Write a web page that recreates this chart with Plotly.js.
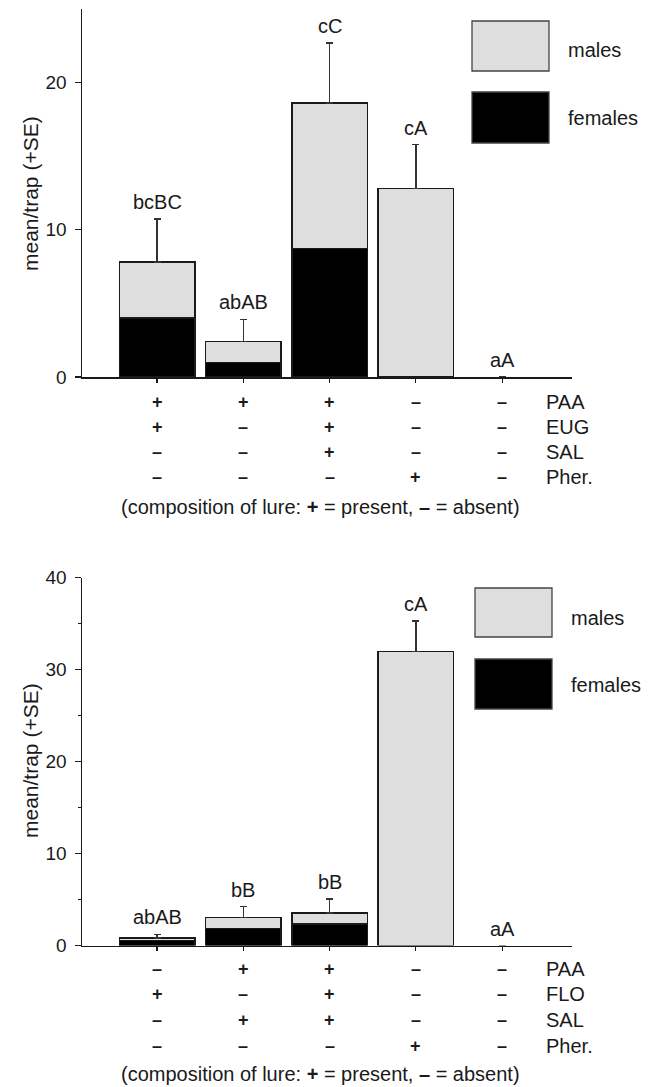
<!DOCTYPE html>
<html>
<head>
<meta charset="utf-8">
<script src="https://cdn.plot.ly/plotly-3.0.1.min.js"></script>
<style>html,body{margin:0;padding:0;background:#fff;}#chart{width:657px;height:1087px;}</style>
</head>
<body>
<div id="chart"></div>
<script>
// ---- data ----
const categories = ['L1', 'L2', 'L3', 'L4', 'L5'];

// top panel (PAA / EUG / SAL / Pher.)
const femalesTop = [4.0, 1.0, 8.75, 0, 0];
const malesTop   = [3.82, 1.4, 9.87, 12.79, 0];
const seTop      = [2.91, 1.52, 4.08, 2.99, 0];
const lettersTop = ['bcBC', 'abAB', 'cC', 'cA', 'aA'];
const rowNamesTop = ['PAA', 'EUG', 'SAL', 'Pher.'];
const rowsTop = [
  ['+', '+', '+', '–', '–'],
  ['+', '–', '+', '–', '–'],
  ['–', '–', '+', '–', '–'],
  ['–', '–', '–', '+', '–']
];

// bottom panel (PAA / FLO / SAL / Pher.)
const femalesBot = [0.55, 1.87, 2.34, 0, 0];
const malesBot   = [0.25, 1.20, 1.20, 31.97, 0];
const seBot      = [0.42, 1.16, 1.53, 3.30, 0];
const lettersBot = ['abAB', 'bB', 'bB', 'cA', 'aA'];
const rowNamesBot = ['PAA', 'FLO', 'SAL', 'Pher.'];
const rowsBot = [
  ['–', '+', '+', '–', '–'],
  ['+', '–', '+', '–', '–'],
  ['–', '+', '+', '–', '–'],
  ['–', '–', '–', '+', '–']
];

const yTickTop = [0, 10, 20];
const yTickBot = [0, 10, 20, 30, 40];
const legendNames = ['males', 'females'];
const yTitle = 'mean/trap (+SE)';
const caption = '(composition of lure: <b>+</b> = present, <b>–</b> = absent)';

// ---- styling ----
const W = 657, H = 1087;
const FONT = 'Liberation Sans, Arial, Helvetica, sans-serif';
const INK = '#1a1a1a';
const GREY = '#dedede';
const px = v => v / W;
const py = v => 1 - v / H;
const outline = vals => vals.map(v => (v > 0 ? 1.4 : 0));

function barTraces(fem, mal, se, xa, ya) {
  return [
    {type: 'bar', x: categories, y: fem, xaxis: xa, yaxis: ya, name: 'females',
     marker: {color: '#000', line: {color: INK, width: outline(fem)}}, showlegend: false, hoverinfo: 'skip'},
    {type: 'bar', x: categories, y: mal, xaxis: xa, yaxis: ya, name: 'males',
     marker: {color: GREY, line: {color: INK, width: outline(mal)}}, showlegend: false, hoverinfo: 'skip',
     error_y: {type: 'data', array: se.map(v => (v > 0 ? v : null)), symmetric: false,
               arrayminus: se.map(v => (v > 0 ? 0 : null)),
               color: '#333', thickness: 1.3, width: 3.5}}
  ];
}

const data = [
  ...barTraces(femalesTop, malesTop, seTop, 'x', 'y'),
  ...barTraces(femalesBot, malesBot, seBot, 'x2', 'y2')
];

const annotations = [];
const shapes = [];

function panel(fem, mal, se, letters, rowNames, rows, xa, ya, rowGap, rowStart, captionGap) {
  letters.forEach((t, i) => {
    annotations.push({xref: xa, yref: ya, x: categories[i], y: fem[i] + mal[i] + se[i],
      text: t, showarrow: false, xanchor: 'center', yanchor: 'bottom', yshift: 4,
      font: {family: FONT, size: 20, color: INK}});
  });
  rows.forEach((row, r) => {
    row.forEach((s, i) => {
      annotations.push({xref: xa, yref: ya + ' domain', x: categories[i], y: 0,
        yshift: -(rowStart + r * rowGap), xanchor: 'center', yanchor: 'middle', showarrow: false,
        text: '<b>' + s + '</b>', font: {family: FONT, size: 18, color: INK}});
    });
    annotations.push({xref: xa, yref: ya + ' domain', x: 4.49, y: 0,
      yshift: -(rowStart + r * rowGap), yanchor: 'middle', xanchor: 'left', showarrow: false,
      text: rowNames[r], font: {family: FONT, size: 20, color: INK}});
  });
  annotations.push({xref: 'paper', yref: ya + ' domain', x: px(320), y: 0,
    yshift: -captionGap, yanchor: 'middle', xanchor: 'center', showarrow: false,
    text: caption, font: {family: FONT, size: 20, color: INK}});
}

panel(femalesTop, malesTop, seTop, lettersTop, rowNamesTop, rowsTop, 'x', 'y', 25, 25, 130);
panel(femalesBot, malesBot, seBot, lettersBot, rowNamesBot, rowsBot, 'x2', 'y2', 25.7, 23, 128);

// y-axis titles
annotations.push({xref: 'paper', yref: 'paper', x: px(30), y: py(194), textangle: -90,
  xanchor: 'center', yanchor: 'middle',
  text: yTitle, showarrow: false, font: {family: FONT, size: 21, color: INK}});
annotations.push({xref: 'paper', yref: 'paper', x: px(30), y: py(761), textangle: -90,
  xanchor: 'center', yanchor: 'middle',
  text: yTitle, showarrow: false, font: {family: FONT, size: 21, color: INK}});

// legend boxes (drawn as shapes in figure space)
function legend(x0, x1, yM0, yM1, yF0, yF1, tx, tyM, tyF) {
  shapes.push({type: 'rect', xref: 'paper', yref: 'paper', x0: px(x0), x1: px(x1), y0: py(yM1), y1: py(yM0),
    fillcolor: GREY, line: {color: '#444', width: 1.3}});
  shapes.push({type: 'rect', xref: 'paper', yref: 'paper', x0: px(x0), x1: px(x1), y0: py(yF1), y1: py(yF0),
    fillcolor: '#000', line: {color: '#444', width: 1.3}});
  annotations.push({xref: 'paper', yref: 'paper', x: px(tx), y: py(tyM), xanchor: 'left', yanchor: 'middle',
    text: legendNames[0], showarrow: false, font: {family: FONT, size: 20, color: INK}});
  annotations.push({xref: 'paper', yref: 'paper', x: px(tx), y: py(tyF), xanchor: 'left', yanchor: 'middle',
    text: legendNames[1], showarrow: false, font: {family: FONT, size: 20, color: INK}});
}
legend(472, 549, 21, 71, 92, 143, 566, 50, 118);
legend(475, 552, 588, 637, 659, 709, 569, 618, 685);

const xCommon = {
  type: 'category', categoryorder: 'array', categoryarray: categories,
  range: [-0.87, 4.81], showticklabels: false, showgrid: false, zeroline: false,
  showline: true, linecolor: INK, linewidth: 1.5,
  ticks: 'outside', ticklen: 4, tickwidth: 1.2, tickcolor: INK, fixedrange: true
};
const yCommon = {
  showgrid: false, zeroline: false, showline: true, linecolor: INK, linewidth: 1.5,
  ticks: 'outside', ticklen: 6, tickwidth: 1.3, tickcolor: INK, ticklabelstandoff: 4,
  tickfont: {family: FONT, size: 19, color: INK}, tickmode: 'array', fixedrange: true
};

const layout = {
  width: W, height: H,
  margin: {l: 0, r: 0, t: 0, b: 0},
  paper_bgcolor: '#fff', plot_bgcolor: 'rgba(0,0,0,0)',
  barmode: 'stack', bargap: 0.124, showlegend: false,
  xaxis: Object.assign({}, xCommon, {domain: [px(82), px(572)], anchor: 'y'}),
  yaxis: Object.assign({}, yCommon, {domain: [py(377), py(9)], range: [0, 25], tickvals: yTickTop, anchor: 'x'}),
  xaxis2: Object.assign({}, xCommon, {domain: [px(82), px(572)], anchor: 'y2'}),
  yaxis2: Object.assign({}, yCommon, {domain: [py(945.5), py(577.5)], range: [0, 40], tickvals: yTickBot, anchor: 'x2',
    minor: {tickvals: [5, 15, 25, 35], ticks: 'outside', ticklen: 3, tickwidth: 1.2, tickcolor: INK}}),
  annotations: annotations,
  shapes: shapes,
  font: {family: FONT, color: INK}
};

Plotly.newPlot('chart', data, layout, {staticPlot: true, displayModeBar: false});
</script>
</body>
</html>
